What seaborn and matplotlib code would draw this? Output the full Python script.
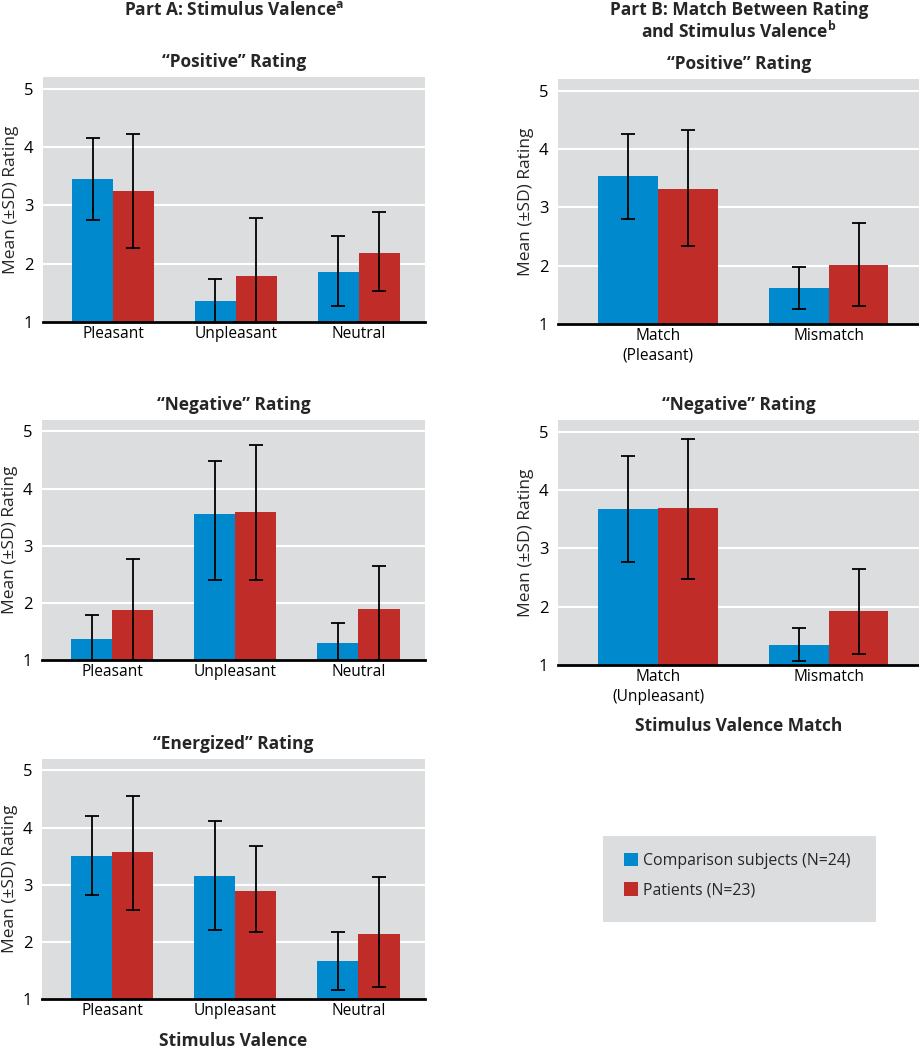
import matplotlib
matplotlib.use("Agg")
import matplotlib.pyplot as plt
import matplotlib.patches as mpatches
import pandas as pd
import seaborn as sns

# categories and groups
groups = ["Comparison subjects (N=24)", "Patients (N=23)"]
valence = ["Pleasant", "Unpleasant", "Neutral"]
match_pos = ["Match\n(Pleasant)", "Mismatch"]
match_neg = ["Match\n(Unpleasant)", "Mismatch"]

# Part A, "Positive" rating (mean, lower and upper end of the SD bar)
a_pos_comp = [3.45, 1.36, 1.85]
a_pos_comp_lo = [2.75, 0.98, 1.27]
a_pos_comp_hi = [4.15, 1.74, 2.48]
a_pos_pat = [3.24, 1.79, 2.19]
a_pos_pat_lo = [2.27, 0.80, 1.53]
a_pos_pat_hi = [4.23, 2.78, 2.88]

# Part A, "Negative" rating
a_neg_comp = [1.36, 3.56, 1.30]
a_neg_comp_lo = [0.94, 2.40, 0.96]
a_neg_comp_hi = [1.78, 4.48, 1.64]
a_neg_pat = [1.87, 3.59, 1.89]
a_neg_pat_lo = [0.97, 2.40, 0.95]
a_neg_pat_hi = [2.77, 4.76, 2.65]

# Part A, "Energized" rating
a_en_comp = [3.51, 3.16, 1.66]
a_en_comp_lo = [2.82, 2.21, 1.15]
a_en_comp_hi = [4.20, 4.11, 2.18]
a_en_pat = [3.58, 2.89, 2.14]
a_en_pat_lo = [2.55, 2.18, 1.21]
a_en_pat_hi = [4.55, 3.68, 3.13]

# Part B, "Positive" rating
b_pos_comp = [3.54, 1.61]
b_pos_comp_lo = [2.80, 1.26]
b_pos_comp_hi = [4.26, 1.98]
b_pos_pat = [3.32, 2.01]
b_pos_pat_lo = [2.33, 1.30]
b_pos_pat_hi = [4.33, 2.73]

# Part B, "Negative" rating
b_neg_comp = [3.67, 1.35]
b_neg_comp_lo = [2.76, 1.07]
b_neg_comp_hi = [4.58, 1.63]
b_neg_pat = [3.69, 1.93]
b_neg_pat_lo = [2.48, 1.19]
b_neg_pat_hi = [4.87, 2.65]

y_ticks = [1, 2, 3, 4, 5]

BLUE = "#0089cc"
RED = "#c02d29"
GREY = "#dcdddf"
W, H = 920, 1050

sns.set_theme(style="darkgrid", rc={
    "axes.facecolor": GREY,
    "grid.color": "white",
    "grid.linewidth": 1.5,
})
plt.rcParams["font.family"] = ["Open Sans", "DejaVu Sans"]
plt.rcParams["mathtext.fontset"] = "custom"
plt.rcParams["mathtext.rm"] = "Open Sans"
plt.rcParams["mathtext.bf"] = "Open Sans:bold"

fig = plt.figure(figsize=(W / 100, H / 100), dpi=100)


def draw_panel(rect, cats, comp, comp_lo, comp_hi, pat, pat_lo, pat_hi,
               title, xlim, width, xlabel=None):
    l, t, r, b = rect
    ax = fig.add_axes([l / W, 1 - b / H, (r - l) / W, (b - t) / H])
    df = pd.DataFrame({
        "cat": cats * 2,
        "group": [groups[0]] * len(cats) + [groups[1]] * len(cats),
        "mean": comp + pat,
    })
    sns.barplot(data=df, x="cat", y="mean", hue="group", order=cats,
                hue_order=groups, palette=[BLUE, RED], saturation=1,
                width=width, gap=0, linewidth=0, errorbar=None,
                legend=False, ax=ax)
    for cont, m, lo, hi in zip(ax.containers, [comp, pat], [comp_lo, pat_lo],
                               [comp_hi, pat_hi]):
        xs = [bar.get_x() + bar.get_width() / 2 for bar in cont]
        yerr = [[mi - li for mi, li in zip(m, lo)],
                [hi_ - mi for mi, hi_ in zip(m, hi)]]
        ax.errorbar(xs, m, yerr=yerr, fmt="none", ecolor="black",
                    elinewidth=1.3, capsize=5, capthick=1.3)
    ax.set_xlim(*xlim)
    ax.set_ylim(1, 5.2)
    ax.set_yticks(y_ticks)
    ax.grid(axis="x", visible=False)
    for side in ["top", "right", "left"]:
        ax.spines[side].set_visible(False)
    ax.spines["bottom"].set_visible(True)
    ax.spines["bottom"].set_color("black")
    ax.spines["bottom"].set_linewidth(2)
    ax.tick_params(axis="both", length=0, colors="black")
    ax.tick_params(axis="y", pad=7, labelsize=12)
    ax.tick_params(axis="x", pad=3, labelsize=11.2)
    for lbl in ax.get_xticklabels():
        lbl.set_linespacing(1.3)
    ax.set_title(title, fontsize=12.5, fontweight="bold", pad=7)
    ax.set_ylabel("Mean (±SD) Rating", fontsize=12.5)
    ax.yaxis.set_label_coords(-24 / (r - l), 0.5)
    if xlabel:
        ax.set_xlabel(xlabel, fontsize=12.5, fontweight="bold", labelpad=9)
    else:
        ax.set_xlabel("")
    return ax


left_xlim = (-0.57, 2.54)
right_xlim = (-0.586, 1.535)

draw_panel((43, 77, 425, 322), valence, a_pos_comp, a_pos_comp_lo, a_pos_comp_hi,
           a_pos_pat, a_pos_pat_lo, a_pos_pat_hi, "“Positive” Rating",
           left_xlim, 0.667)
draw_panel((42, 420, 425, 660), valence, a_neg_comp, a_neg_comp_lo, a_neg_comp_hi,
           a_neg_pat, a_neg_pat_lo, a_neg_pat_hi, "“Negative” Rating",
           left_xlim, 0.667)
draw_panel((42, 759, 425, 999), valence, a_en_comp, a_en_comp_lo, a_en_comp_hi,
           a_en_pat, a_en_pat_lo, a_en_pat_hi, "“Energized” Rating",
           left_xlim, 0.667, xlabel="Stimulus Valence")
draw_panel((558, 79, 920, 324), match_pos, b_pos_comp, b_pos_comp_lo, b_pos_comp_hi,
           b_pos_pat, b_pos_pat_lo, b_pos_pat_hi, "“Positive” Rating",
           right_xlim, 0.70)
draw_panel((558, 420, 920, 665), match_neg, b_neg_comp, b_neg_comp_lo, b_neg_comp_hi,
           b_neg_pat, b_neg_pat_lo, b_neg_pat_hi, "“Negative” Rating",
           right_xlim, 0.70, xlabel="Stimulus Valence Match")

# part headings
fig.text(234 / W, 1 - 10 / H, r"Part A: Stimulus Valence$^{\mathbf{a}}$",
         ha="center", va="center", fontsize=12.5, fontweight="bold")
fig.text(739 / W, 1 - 10 / H, "Part B: Match Between Rating",
         ha="center", va="center", fontsize=12.5, fontweight="bold")
fig.text(739 / W, 1 - 31 / H, r"and Stimulus Valence$^{\mathbf{b}}$",
         ha="center", va="center", fontsize=12.5, fontweight="bold")

# legend box
fig.patches.append(mpatches.Rectangle((603 / W, 1 - 922 / H), 273 / W, 86 / H,
                                      transform=fig.transFigure,
                                      facecolor=GREY, edgecolor="none"))
handles = [mpatches.Patch(facecolor=BLUE, edgecolor="none"),
           mpatches.Patch(facecolor=RED, edgecolor="none")]
fig.legend(handles, groups, loc="upper left",
           bbox_to_anchor=(624 / W, 1 - 853 / H), frameon=False,
           fontsize=11.4, handlelength=0.9, handleheight=0.9,
           handletextpad=0.3, labelspacing=0.85, borderpad=0,
           borderaxespad=0)

fig.savefig("out.png", dpi=100)
